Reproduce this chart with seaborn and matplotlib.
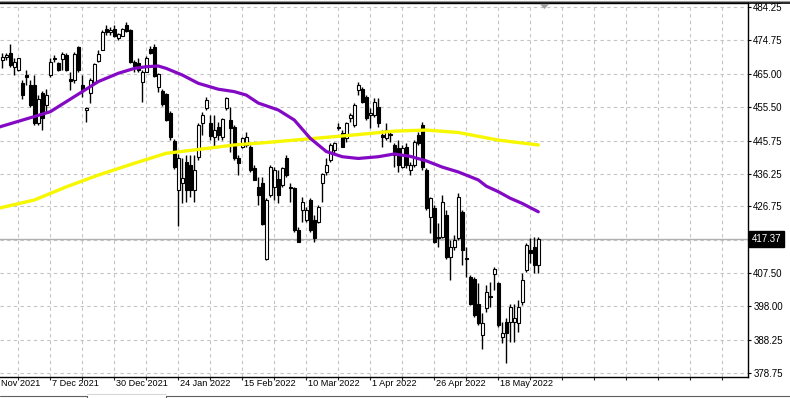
import matplotlib
matplotlib.use("Agg")
import matplotlib.pyplot as plt
from matplotlib.lines import Line2D
from matplotlib.patches import Polygon
import numpy as np
import seaborn as sns

# daily candles, one per trading day (12 Nov 2021 .. 2 Jun 2022 window)
opens = [469.0, 469.8, 471.0, 467.1, 466.2, 462.3, 464.7, 461.8, 461.8, 450.7,
         459.4, 456.0, 464.7, 469.2, 468.1, 469.3, 470.5, 463.6, 463.3, 472.9,
         461.8, 454.6, 459.4, 462.8, 468.7, 471.9, 478.0, 477.0, 478.0, 475.5,
         476.1, 479.1, 477.7, 468.4, 468.1, 462.8, 465.7, 472.2, 472.7, 461.3,
         460.2, 459.1, 453.7, 445.6, 431.5, 433.6, 439.5, 438.7, 431.5, 441.1,
         450.7, 455.1, 450.9, 446.9, 449.8, 446.9, 455.1, 451.7, 449.8, 440.6,
         444.0, 444.5, 444.0, 437.8, 432.4, 433.4, 411.7, 430.0, 432.4, 434.8,
         432.9, 440.6, 432.5, 432.0, 419.9, 425.7, 422.8, 428.6, 422.8, 422.3,
         433.4, 436.8, 440.1, 443.0, 449.5, 447.9, 446.4, 452.2, 450.3, 460.4,
         460.8, 458.4, 453.2, 453.2, 455.6, 447.4, 446.4, 447.4, 444.5, 443.5,
         438.2, 444.0, 437.3, 438.7, 447.4, 450.3, 437.3, 423.8, 426.2, 418.0,
         418.0, 424.3, 412.2, 415.1, 417.5, 425.2, 411.9, 406.4, 405.9, 398.7,
         389.6, 397.3, 400.5, 407.2, 404.5, 389.1, 393.4, 393.4, 393.4, 393.0,
         399.2, 408.4, 414.2, 415.1, 409.8]
highs = [471.0, 471.2, 473.6, 469.5, 469.7, 463.2, 466.1, 463.2, 464.7, 458.9,
         460.1, 460.8, 469.5, 470.5, 468.6, 471.4, 471.0, 465.5, 471.4, 473.2,
         464.7, 455.5, 463.7, 468.3, 471.9, 477.7, 479.0, 478.7, 479.1, 476.7,
         478.4, 480.1, 478.0, 469.1, 469.5, 466.1, 470.3, 473.2, 473.6, 465.4,
         460.6, 459.6, 454.3, 446.2, 442.0, 440.6, 441.6, 441.6, 441.6, 450.7,
         454.1, 458.4, 453.2, 453.2, 451.2, 452.2, 458.4, 455.6, 450.3, 441.6,
         446.9, 448.3, 444.5, 438.7, 435.3, 435.3, 429.1, 438.7, 438.2, 437.3,
         438.2, 441.6, 433.4, 432.4, 420.9, 429.5, 426.7, 429.1, 424.3, 427.1,
         436.3, 440.6, 445.0, 445.4, 450.7, 448.8, 451.2, 453.6, 456.5, 462.6,
         461.3, 458.9, 455.1, 458.0, 458.0, 448.8, 450.7, 448.8, 445.0, 446.0,
         444.5, 445.0, 439.7, 446.0, 448.3, 451.2, 437.8, 429.6, 427.2, 421.9,
         430.0, 425.7, 417.0, 418.5, 430.5, 425.7, 415.1, 406.9, 406.4, 404.5,
         395.9, 404.0, 405.0, 409.3, 405.0, 393.4, 394.4, 398.7, 398.7, 399.7,
         407.4, 416.1, 417.5, 418.0, 417.9]
lows = [466.6, 469.0, 467.1, 464.7, 465.9, 457.9, 461.8, 455.6, 450.2, 450.2,
        448.8, 454.1, 464.2, 468.6, 466.0, 466.1, 465.9, 460.4, 462.3, 465.7,
        458.4, 451.2, 456.5, 462.3, 468.5, 471.9, 476.3, 476.3, 475.8, 474.8,
        476.0, 477.2, 468.1, 465.5, 465.5, 456.8, 465.5, 470.8, 464.2, 459.9,
        455.7, 451.4, 446.0, 437.6, 421.2, 427.6, 428.0, 429.6, 428.1, 440.2,
        447.4, 454.6, 445.9, 444.0, 445.9, 445.9, 454.6, 442.6, 440.2, 435.8,
        443.5, 444.0, 436.8, 434.4, 427.2, 421.5, 411.3, 429.6, 428.6, 427.6,
        432.4, 435.3, 428.1, 419.4, 416.5, 422.3, 422.3, 419.4, 416.6, 421.9,
        428.1, 435.8, 439.7, 442.1, 448.8, 444.0, 445.4, 451.2, 449.8, 458.9,
        456.5, 451.7, 449.3, 452.7, 449.8, 444.0, 445.9, 445.4, 438.2, 436.8,
        437.7, 437.7, 435.8, 438.2, 444.5, 437.3, 425.7, 419.0, 416.1, 415.1,
        417.5, 411.7, 405.5, 414.2, 417.0, 409.8, 406.4, 398.3, 394.9, 392.5,
        385.7, 396.3, 397.8, 402.6, 392.0, 387.2, 381.4, 387.7, 387.7, 390.6,
        398.3, 407.9, 410.3, 407.4, 407.4]
closes = [470.0, 470.6, 467.6, 468.6, 469.5, 458.9, 464.2, 456.0, 450.7, 457.9,
          452.2, 458.9, 468.6, 469.7, 466.1, 470.7, 466.1, 463.0, 470.7, 466.1,
          460.4, 455.1, 463.2, 467.8, 470.7, 477.2, 477.0, 477.8, 476.1, 476.4,
          478.0, 477.4, 468.6, 467.3, 466.1, 465.7, 469.7, 471.2, 464.5, 465.0,
          456.4, 451.7, 446.7, 438.2, 440.6, 434.9, 431.5, 431.5, 437.3, 450.3,
          453.2, 457.5, 447.1, 448.8, 447.4, 451.9, 458.0, 449.3, 440.6, 439.2,
          446.4, 446.9, 437.3, 434.4, 430.0, 421.8, 428.6, 438.2, 437.3, 430.0,
          437.7, 435.8, 432.2, 419.9, 416.6, 428.1, 425.7, 419.9, 417.5, 426.7,
          436.0, 438.7, 444.5, 445.0, 449.8, 444.0, 450.7, 453.1, 456.0, 461.8,
          457.0, 452.2, 453.7, 457.0, 450.7, 446.9, 448.8, 447.8, 441.6, 438.7,
          443.5, 438.7, 438.7, 445.4, 445.0, 438.2, 426.2, 429.1, 416.6, 417.6,
          428.1, 412.2, 415.1, 417.0, 429.6, 414.2, 411.7, 398.7, 395.4, 393.0,
          393.0, 402.1, 400.9, 408.8, 392.5, 390.1, 390.1, 397.8, 394.4, 397.8,
          405.5, 415.6, 413.2, 409.8, 417.37]

# moving averages (bar index -> price)
ma_fast_bars = [-1, 8, 12, 16, 20, 24, 29, 33, 36, 39, 41, 45, 49, 54, 58, 61, 64, 69,
                73, 77, 81, 85, 89, 94, 98, 102, 106, 110, 114, 119, 121, 124, 127, 130, 134]
ma_fast_vals = [449.6, 452.7, 454.1, 457.0, 459.9, 462.8, 465.2, 466.6, 467.1, 467.3,
                466.6, 464.7, 462.3, 460.6, 459.9, 458.9, 456.6, 454.6, 451.7, 446.4,
                442.6, 441.1, 440.6, 441.1, 441.9, 441.2, 439.9, 438.1, 436.7, 434.4,
                432.6, 431.0, 429.1, 427.6, 425.2]
ma_slow_bars = [-1, 8, 12, 16, 24, 33, 41, 49, 58, 66, 73, 81, 89, 98, 106, 114, 124, 134]
ma_slow_vals = [426.2, 428.6, 430.5, 432.4, 435.8, 439.2, 442.1, 443.2, 444.5, 445.2,
                445.9, 446.7, 447.5, 448.5, 448.8, 448.1, 445.9, 444.5]

price_ticks = [484.25, 474.75, 465.00, 455.50, 445.75, 436.25, 426.75, 407.50, 398.00, 388.25, 378.75]
last_price = 417.37
# first label is cut by the window edge in the terminal, only "Nov 2021" shows
first_date_label = "Nov 2021"
date_labels = ["7 Dec 2021", "30 Dec 2021", "24 Jan 2022", "15 Feb 2022",
               "10 Mar 2022", "1 Apr 2022", "26 Apr 2022", "18 May 2022"]
date_bars = [12, 28, 44, 60, 76, 92, 108, 124]

sns.set_style("white")
plt.rcParams['font.family'] = ['Liberation Sans', 'DejaVu Sans']

W, H = 790, 398
fig = plt.figure(figsize=(W / 100, H / 100), dpi=100)
# plot box in pixels: left 0, right 747.7, top 3.3, bottom 376.7
ax = fig.add_axes([0, (H - 376.7) / H, 747.7 / W, (376.7 - 3.3) / H])
ax.set_xlim(-0.575, 186.35)
ax.set_ylim(377.57, 485.41)

grid_kw = dict(color='#c4c4c4', lw=0.8, dashes=(3, 3), zorder=0)
for v in price_ticks + [417.1]:
    ax.axhline(v, **grid_kw)
for b in range(4, 187, 8):
    ax.axvline(b, **grid_kw)

# current price line
ax.axhline(last_price, color='#b0b0b0', lw=1, zorder=1)

# candles
o = np.array(opens)
c = np.array(closes)
idx = np.arange(len(o))
ax.vlines(idx, lows, highs, color='black', lw=1, zorder=3)
bottoms = np.minimum(o, c)
heights = np.maximum(np.abs(c - o), 0.2)
up = c >= o
ax.bar(idx[up], heights[up], bottom=bottoms[up], width=0.6, color='white',
       edgecolor='black', lw=0.8, zorder=4)
ax.bar(idx[~up], heights[~up], bottom=bottoms[~up], width=0.6, color='black',
       edgecolor='black', lw=0.8, zorder=4)

# moving averages
sns.lineplot(x=ma_slow_bars, y=ma_slow_vals, color='#f7f700', lw=2.4, ax=ax, zorder=5)
sns.lineplot(x=ma_fast_bars, y=ma_fast_vals, color='#8409c4', lw=2.3, ax=ax, zorder=6)

# axes frame
for s in ['top', 'right', 'bottom']:
    ax.spines[s].set_visible(True)
    ax.spines[s].set_color('black')
    ax.spines[s].set_linewidth(1)
ax.spines['left'].set_visible(False)

ax.yaxis.tick_right()
ax.set_yticks(price_ticks)
ax.set_yticklabels([f"{v:.2f}" for v in price_ticks])
ax.tick_params(axis='y', right=True, length=2.5, width=0.8, pad=1.5,
               labelsize=7, colors='black')
ax.set_xticks(list(range(4, 187, 8)))
ax.set_xticklabels([])
ax.tick_params(axis='x', bottom=True, length=2.5, width=0.8)
ax.set_xlabel('')
ax.set_ylabel('')

ax.annotate(first_date_label, xy=(0, 0), xycoords='axes fraction',
            xytext=(0.5, -4.6), textcoords='offset points', ha='left', va='center',
            fontsize=6.6, color='black', annotation_clip=False)
for lab, b in zip(date_labels, date_bars):
    ax.annotate(lab, xy=(b, 0), xycoords=('data', 'axes fraction'),
                xytext=(1, -4.6), textcoords='offset points', ha='left', va='center',
                fontsize=6.6, color='black', annotation_clip=False)

# last price tag
ax.annotate(f"{last_price:.2f}", xy=(1, last_price), xycoords=('axes fraction', 'data'),
            xytext=(3.0, 0), textcoords='offset points', ha='left', va='center',
            fontsize=7, color='white', annotation_clip=False,
            bbox=dict(boxstyle='square,pad=0.3', fc='black', ec='black'))

# window chrome: top line, tab strip at bottom, chart shift marker
to_fig = lambda x, y: (x / W, 1 - y / H)
fig.add_artist(Line2D([0, 1], [1 - 2.5 / H] * 2, color='black', lw=1.2))
fig.add_artist(Line2D([0, 1], [1 - 0.8 / H] * 2, color='#9a9a9a', lw=0.8))
fig.add_artist(Line2D([0, 87 / W], [1 - 395.5 / H] * 2, color='#606060', lw=0.8))
fig.add_artist(Line2D([166 / W, 1], [1 - 395.5 / H] * 2, color='#606060', lw=0.8))
fig.add_artist(Line2D([87 / W, 87 / W], [0, 1 - 395.5 / H], color='#606060', lw=0.8))
fig.add_artist(Line2D([166 / W, 166 / W], [0, 1 - 395.5 / H], color='#606060', lw=0.8))
fig.add_artist(Line2D([87 / W, 166 / W], [1 - 394 / H] * 2, color='#d8d8d8', lw=0.8))
fig.add_artist(Polygon([to_fig(540, 3.5), to_fig(549, 3.5), to_fig(544.5, 8.5)],
                       closed=True, fc='#a0a0a0', ec='#a0a0a0', lw=0.5,
                       transform=fig.transFigure))

fig.savefig('out.png', dpi=100)
